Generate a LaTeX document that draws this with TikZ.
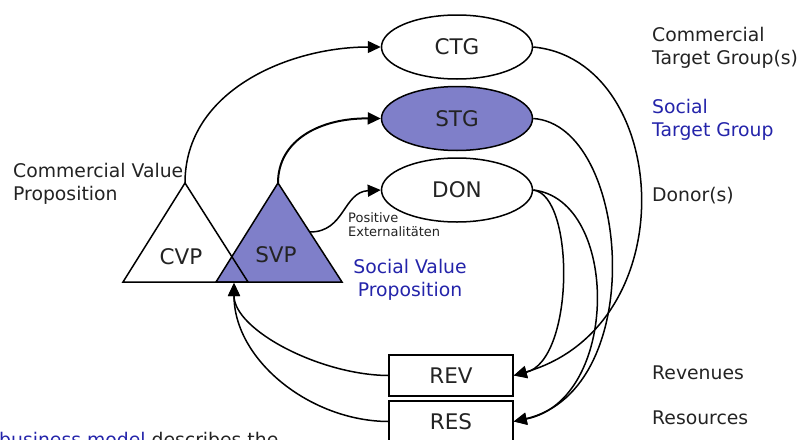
\documentclass[tikz,border=0pt]{standalone}
\usepackage{fontspec}
\setmainfont{DejaVu Sans}
\usepackage{tikz}
\usetikzlibrary{shapes.geometric}
\usetikzlibrary{positioning}
\usetikzlibrary{arrows.meta}
\definecolor{socialfill}{RGB}{127,127,201}
\definecolor{socialblue}{RGB}{36,36,170}
\definecolor{textgray}{RGB}{35,35,35}
\tikzstyle{target} = [ellipse, minimum width=151pt, minimum height=64pt, inner sep=0pt, draw=black, line width=1.5pt, text=textgray, font=\fontsize{21.5}{25}\selectfont]
\tikzstyle{flow} = [rectangle, minimum width=124pt, minimum height=41pt, inner sep=0pt, draw=black, line width=1.5pt, text=textgray, font=\fontsize{21.5}{25}\selectfont]
\tikzstyle{desc} = [anchor=west, align=left, inner sep=0pt, text=textgray, font=\fontsize{18.8}{23}\selectfont]
\tikzstyle{arrow} = [line width=1.5pt,->,>={Triangle[length=13pt,width=12pt]}]

\begin{document}
\begin{tikzpicture}[x=1pt, y=-1pt, node distance=71.5pt]
        \useasboundingbox (0,0) rectangle (803,439);
        % target groups
        \node (ctg) [target] at (457,47) {CTG};
        \node (stg) [target, fill=socialfill, below of=ctg] {STG};
        \node (don) [target, below of=stg] {DON};
        % value propositions
        \coordinate (cvptop) at (185,183);
        \coordinate (svptop) at (278,183);
        \coordinate (svpside) at (310,232);
        \coordinate (base) at (234,283);
        \filldraw [fill=socialfill, line width=1.5pt] (svptop) -- (216,282) -- (342,282) -- cycle;
        \draw [line width=1.5pt] (cvptop) -- (123,282) -- (248,282) -- cycle;
        \node (cvp) [text=textgray, font=\fontsize{21.5}{25}\selectfont] at (181,257) {CVP};
        \node (svp) [text=textgray, font=\fontsize{21.5}{25}\selectfont] at (276,255) {SVP};
        % revenues and resources
        \node (rev) [flow] at (451,375.5) {REV};
        \node (res) [flow] at (451,421.5) {RES};

        % texts
        \node (cvptext) [desc] at (13,184) {Commercial Value\\Proposition};
        \node (svptext) [desc, anchor=center, align=center, text=socialblue] at (410,280) {Social Value\\Proposition};
        \node (exttext) [desc, anchor=north west, font=\fontsize{13}{14.5}\selectfont] at (348,212) {Positive\\Externalitäten};
        \node (ctgtext) [desc] at (652,48) {Commercial\\Target Group(s)};
        \node (stgtext) [desc, text=socialblue] at (652,120) {Social\\Target Group};
        \node (dontext) [desc] at (652,196) {Donor(s)};
        \node (revtext) [desc] at (652,373) {Revenues};
        \node (restext) [desc] at (652,418) {Resources};
        \node (bmtext) [desc, anchor=base west] at (-1,446) {\textcolor{socialblue}{business model} describes the};

        \draw [arrow] (cvptop) .. controls (185,90) and (290,47) .. (ctg.west);
        \draw [arrow, line width=2pt] (svptop) .. controls (278,140) and (320,118) .. (stg.west);
        \draw [arrow] (svpside) .. controls (345,232) and (343,192) .. (don.west);
        \draw [arrow] (ctg.east) .. controls (670,60) and (688,325) .. (rev.east);
        \draw [arrow] (stg.east) .. controls (630,125) and (650,390) .. (res.east);
        \draw [arrow] (don.east) .. controls (575,195) and (575,360) .. (rev.east);
        \draw [arrow] (don.east) .. controls (620,200) and (620,400) .. (res.east);
        \draw [arrow] (rev.west) .. controls (320,375) and (234,330) .. (base);
        \draw [arrow] (res.west) .. controls (310,421) and (234,360) .. (base);
    \end{tikzpicture}
\end{document}
